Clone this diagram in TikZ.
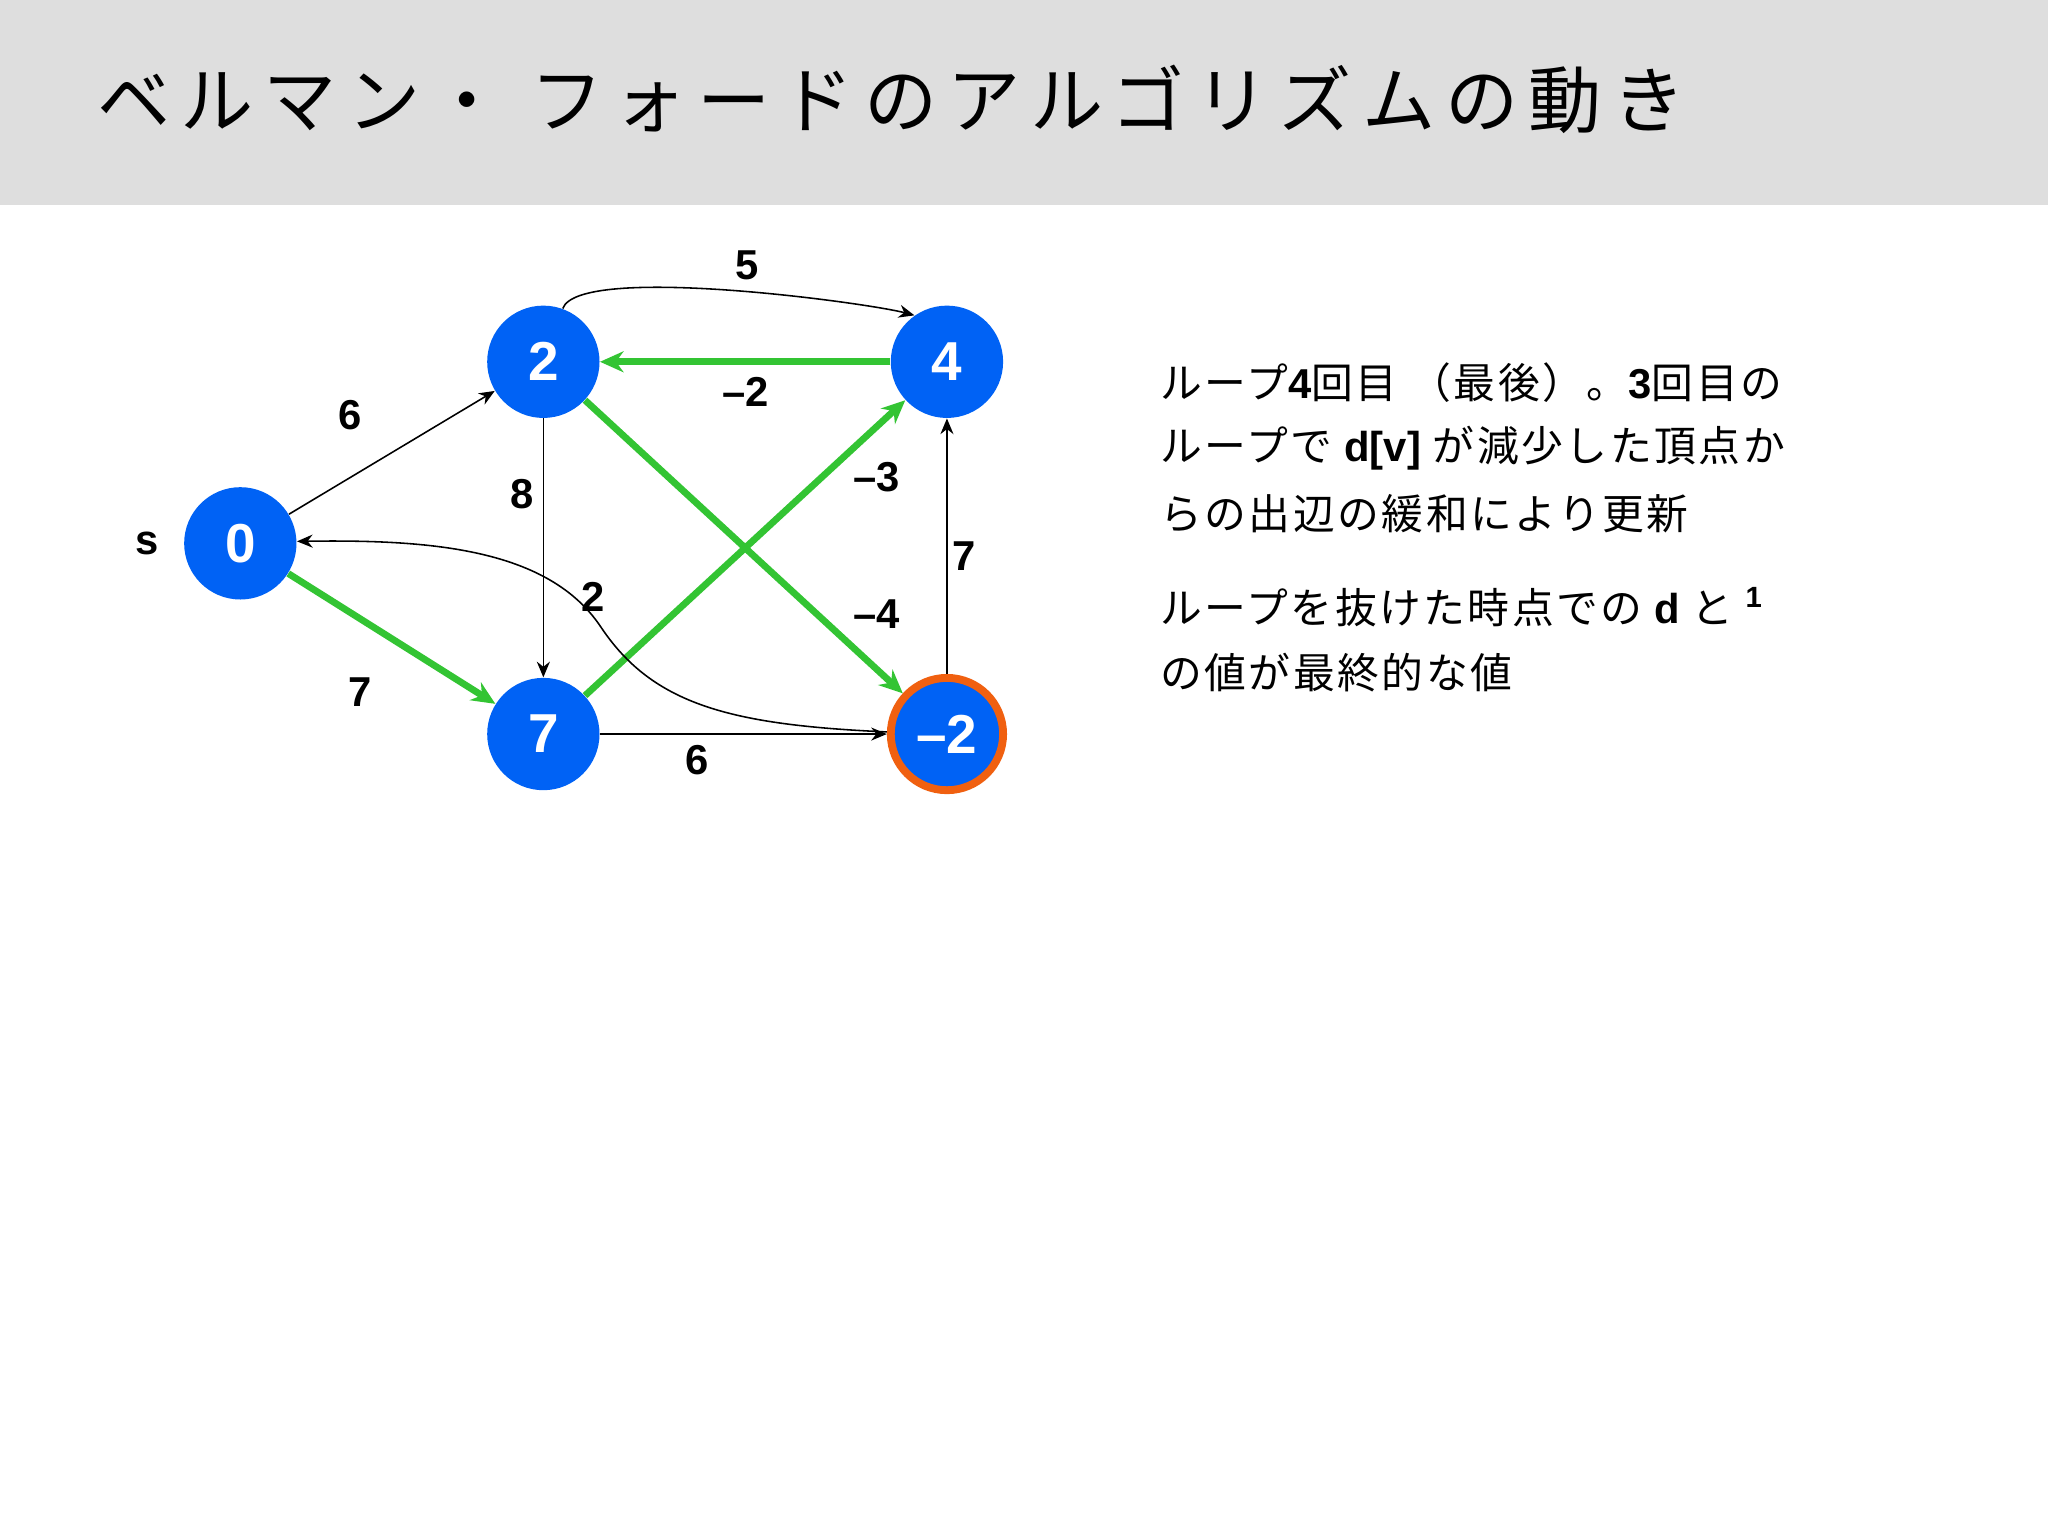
\documentclass[tikz,border=0pt]{standalone}
\usepackage{fontspec}
\setmainfont{Liberation Sans}
\newfontfamily\jp[LetterSpace=6]{Noto Sans CJK JP}
\newfontfamily\jpt[LetterSpace=14]{Noto Sans CJK JP}
\newfontfamily\lat{Liberation Sans}
\newcommand{\lb}[1]{{\lat\bfseries #1}}
\usetikzlibrary{arrows.meta}
\definecolor{nblue}{HTML}{0062F5}
\definecolor{egreen}{HTML}{33C433}
\definecolor{ored}{HTML}{F06010}
\begin{document}
\begin{tikzpicture}[x=0.5pt,y=-0.5pt,
  vert/.style={circle,fill=nblue,minimum size=43pt,inner sep=0pt,text=white,font=\bfseries\fontsize{21}{21}\selectfont},
  thin/.style={draw=black,line width=0.6pt,-{Stealth[length=6pt,width=5pt]}},
  grn/.style={draw=egreen,line width=2.6pt,-{Stealth[length=9pt,width=8pt]}},
  lab/.style={font=\bfseries\fontsize{16}{16}\selectfont},
  txt/.style={anchor=west,font=\jp\fontsize{16}{16}\selectfont,inner sep=0pt}]
\useasboundingbox (0,0) rectangle (1568,1176);
\fill[white] (0,0) rectangle (1568,1176);
\fill[black!13] (0,0) rectangle (1568,157);
\node[anchor=west,inner sep=0pt,font=\jpt\fontsize{28}{28}\selectfont] (title) at (74,76) {ベルマン・ フォードのアルゴリズムの動き};
\node[vert] (s) at (184,416) {0};
\node[vert] (a) at (416,277) {2};
\node[vert] (b) at (725,277) {4};
\node[vert] (c) at (416,562) {7};
\node[vert,draw=ored,line width=3pt] (d) at (725,562) {–2};
\node[lab] (sl) at (113,416) {s};
\draw[thin] (s) -- (a);
\draw[grn] (s) -- (c);
\draw[thin] (a.70) to[out=70,in=165,looseness=0.35] (b.125);
\draw[grn] (b) -- (a);
\draw[thin] (a) -- (c);
\draw[grn] (a) -- (d);
\draw[grn] (c) -- (b);
\draw[thin] (c) -- (d);
\draw[thin] (d) -- (b);
\draw[thin] (d.178) .. controls (560,555) and (500,540) .. (460,480) .. controls (420,420) and (330,413) .. (s.2);
\node[lab] (l1) at (268,318) {6};
\node[lab] (l2) at (276,530) {7};
\node[lab] (l3) at (572,203) {5};
\node[lab] (l4) at (571,300) {–2};
\node[lab] (l5) at (400,378) {8};
\node[lab] (l6) at (671,470) {–4};
\node[lab] (l7) at (671,365) {–3};
\node[lab] (l8) at (534,582) {6};
\node[lab] (l9) at (738,426) {7};
\node[lab] (l10) at (454,457) {2};
\node[txt] (t1) at (888,293) {ループ\lb{4}回目 （最後）。\lb{3}回目の};
\node[txt] (t2) at (888,343) {ループで \lb{d[v]} が減少した頂点か};
\node[txt] (t3) at (888,393) {らの出辺の緩和により更新};
\node[txt] (t4) at (888,465) {ループを抜けた時点での \lb{d} と \textsuperscript{\lb{1}}};
\node[txt] (t5) at (888,515) {の値が最終的な値};
\end{tikzpicture}
\end{document}
